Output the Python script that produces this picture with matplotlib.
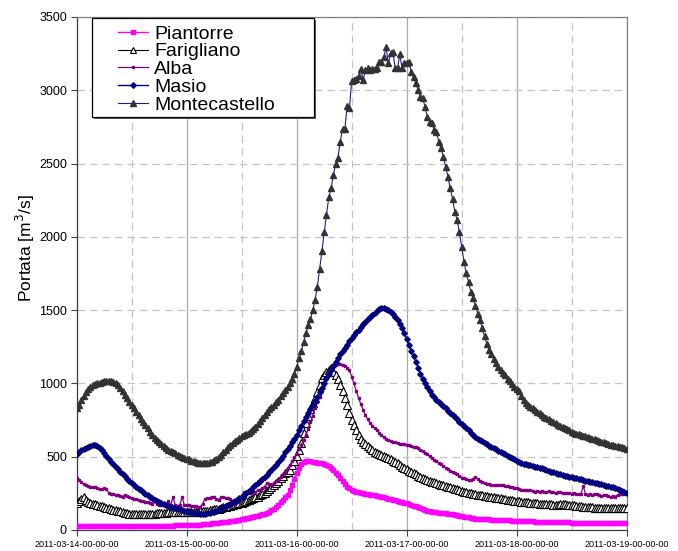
import numpy as np
import pandas as pd
import matplotlib
matplotlib.use("Agg")
import matplotlib.pyplot as plt
from matplotlib.lines import Line2D
from matplotlib.patches import Rectangle

plt.rcParams['font.family'] = ['Liberation Sans', 'DejaVu Sans']

# half-hourly samples from 2011-03-14 00:00 to 2011-03-19 00:00
start_time = "2011-03-14 00:00"
n_samples = 241

piantorre = [
    30, 29, 28, 28, 27, 27, 26, 26, 26, 25, 25, 25,
    25, 24, 24, 24, 24, 24, 24, 24, 25, 25, 25, 25,
    25, 26, 26, 26, 26, 27, 27, 27, 27, 28, 28, 28,
    28, 29, 29, 29, 30, 30, 30, 31, 31, 31, 32, 32,
    32, 33, 33, 34, 34, 35, 36, 38, 40, 41, 43, 45,
    47, 49, 50, 52, 54, 56, 57, 59, 61, 63, 65, 68,
    72, 76, 80, 84, 87, 90, 93, 97, 101, 106, 111, 116,
    125, 135, 146, 158, 172, 188, 205, 225, 240, 270, 310, 350,
    390, 425, 450, 465, 472, 473, 470, 466, 462, 460, 456, 455,
    450, 443, 436, 425, 410, 392, 375, 355, 335, 312, 296, 284,
    273, 266, 260, 257, 254, 251, 248, 245, 242, 240, 237, 233,
    229, 226, 222, 218, 214, 210, 206, 202, 198, 194, 190, 186,
    182, 177, 172, 167, 161, 155, 149, 142, 136, 131, 127, 124,
    122, 120, 118, 117, 116, 114, 112, 109, 106, 103, 100, 97,
    94, 91, 88, 86, 83, 80, 78, 77, 76, 75, 74, 73,
    72, 71, 70, 69, 68, 67, 66, 66, 65, 65, 64, 64,
    63, 62, 61, 60, 59, 58, 58, 58, 57, 57, 57, 57,
    57, 56, 56, 55, 55, 54, 54, 53, 53, 52, 52, 52,
    51, 51, 51, 50, 50, 50, 49, 49, 49, 48, 48, 48,
    48, 47, 47, 47, 47, 47, 46, 46, 46, 46, 46, 46,
    46,
]

farigliano = [
    182, 198, 212, 223, 205, 193, 186, 180, 175, 171, 167, 163,
    157, 153, 148, 143, 139, 135, 132, 128, 124, 118, 115, 112,
    110, 109, 109, 108, 109, 109, 108, 109, 109, 110, 112, 114,
    115, 116, 117, 118, 120, 122, 124, 125, 125, 125, 125, 124,
    122, 121, 120, 121, 123, 125, 127, 129, 131, 133, 135, 137,
    140, 143, 146, 150, 154, 158, 162, 166, 170, 174, 178, 182,
    187, 193, 200, 207, 214, 219, 224, 228, 236, 245, 255, 267,
    278, 291, 306, 320, 335, 352, 370, 387, 398, 409, 440, 470,
    505, 545, 595, 660, 730, 780, 825, 866, 898, 940, 990, 1035,
    1060, 1078, 1091, 1103, 1080, 1058, 1030, 990, 950, 900, 855, 800,
    750, 716, 680, 648, 620, 600, 585, 570, 557, 545, 535, 527,
    520, 512, 503, 496, 489, 482, 474, 466, 455, 442, 432, 425,
    418, 405, 394, 387, 379, 371, 364, 356, 349, 342, 335, 330,
    325, 320, 315, 310, 305, 300, 296, 291, 287, 282, 278, 272,
    266, 262, 258, 255, 252, 248, 245, 242, 239, 236, 233, 230,
    228, 226, 224, 221, 218, 216, 213, 210, 207, 205, 202, 200,
    197, 195, 193, 192, 190, 188, 186, 184, 182, 181, 180, 179,
    178, 176, 175, 174, 173, 172, 172, 174, 176, 174, 172, 172,
    170, 168, 166, 164, 162, 160, 158, 157, 155, 154, 153, 152,
    151, 150, 150, 150, 149, 149, 149, 148, 148, 148, 148, 148,
    148,
]

alba = [
    353, 340, 326, 316, 306, 300, 296, 293, 291, 287, 282, 277,
    285, 280, 252, 248, 244, 240, 237, 233, 228, 240, 234, 225,
    216, 212, 209, 205, 201, 197, 193, 188, 182, 178, 213, 175,
    168, 172, 171, 170, 196, 168, 224, 170, 167, 169, 227, 168,
    170, 168, 166, 164, 163, 160, 159, 180, 213, 216, 220, 227,
    224, 210, 205, 226, 222, 218, 216, 214, 183, 185, 190, 192,
    235, 261, 258, 255, 252, 250, 258, 270, 276, 287, 296, 318,
    312, 307, 320, 335, 341, 360, 378, 398, 420, 443, 470, 495,
    520, 550, 580, 615, 648, 690, 735, 780, 830, 870, 905, 950,
    990, 1030, 1065, 1090, 1110, 1125, 1130, 1132, 1126, 1116, 1105, 1090,
    1046, 1000, 945, 900, 858, 820, 785, 755, 730, 712, 698, 682,
    665, 648, 632, 618, 612, 604, 602, 598, 595, 590, 588, 585,
    582, 578, 574, 568, 566, 560, 548, 536, 527, 516, 505, 493,
    480, 470, 458, 447, 436, 425, 414, 405, 396, 388, 380, 370,
    358, 352, 348, 344, 341, 350, 362, 345, 334, 328, 322, 316,
    312, 308, 307, 309, 306, 308, 304, 300, 298, 293, 290, 287,
    285, 281, 276, 272, 274, 271, 273, 263, 260, 266, 262, 268,
    262, 258, 264, 259, 256, 252, 258, 261, 255, 251, 250, 253,
    248, 254, 247, 243, 244, 300, 248, 242, 245, 241, 246, 244,
    238, 233, 240, 236, 230, 226, 232, 228, 240, 245, 243, 248,
    250,
]

masio = [
    520, 532, 543, 552, 560, 568, 575, 579, 578, 572, 560, 546,
    528, 508, 486, 466, 447, 429, 413, 397, 381, 365, 350, 336,
    321, 307, 294, 282, 271, 259, 247, 236, 226, 216, 207, 198,
    190, 183, 176, 170, 164, 158, 153, 148, 144, 140, 136, 132,
    128, 125, 122, 119, 116, 113, 112, 111, 112, 114, 117, 121,
    126, 132, 139, 147, 155, 163, 171, 180, 189, 198, 208, 218,
    228, 239, 251, 263, 276, 290, 304, 318, 332, 347, 362, 377,
    393, 410, 428, 446, 466, 486, 508, 530, 552, 575, 598, 622,
    650, 680, 710, 742, 770, 798, 825, 852, 880, 908, 940, 970,
    1003, 1035, 1065, 1093, 1120, 1148, 1175, 1198, 1220, 1242, 1265, 1287,
    1308, 1328, 1348, 1366, 1385, 1403, 1420, 1436, 1452, 1466, 1480, 1492,
    1505, 1516, 1516, 1510, 1500, 1488, 1472, 1453, 1430, 1402, 1375, 1345,
    1300, 1262, 1222, 1185, 1145, 1108, 1065, 1030, 1000, 973, 946, 921,
    905, 890, 875, 860, 845, 830, 815, 800, 785, 770, 755, 740,
    725, 710, 694, 680, 664, 648, 636, 624, 614, 604, 594, 584,
    575, 567, 558, 550, 542, 534, 525, 516, 507, 499, 491, 482,
    473, 465, 458, 452, 447, 443, 440, 436, 432, 428, 425, 421,
    416, 410, 404, 398, 393, 387, 383, 379, 375, 371, 368, 364,
    360, 356, 352, 348, 345, 341, 337, 333, 329, 325, 322, 318,
    314, 311, 307, 303, 300, 296, 291, 285, 279, 273, 267, 261,
    254,
]

montecastello = [
    830, 855, 885, 915, 940, 960, 975, 987, 995, 1000, 1005, 1010,
    1013, 1016, 1018, 1018, 1012, 1002, 990, 972, 948, 921, 897, 875,
    853, 832, 808, 784, 760, 738, 715, 693, 670, 650, 630, 612,
    597, 584, 571, 559, 547, 538, 530, 522, 514, 506, 499, 493,
    487, 481, 474, 469, 464, 460, 458, 457, 458, 460, 463, 467,
    476, 487, 498, 512, 530, 548, 566, 582, 595, 606, 617, 628,
    638, 645, 652, 662, 676, 690, 705, 722, 742, 765, 786, 805,
    822, 838, 854, 870, 890, 912, 933, 955, 978, 1000, 1030, 1065,
    1114, 1171, 1220, 1280, 1342, 1398, 1440, 1500, 1569, 1660, 1780, 1900,
    2030, 2150, 2270, 2330, 2420, 2500, 2540, 2650, 2733, 2733, 2890, 2876,
    3064, 3069, 3074, 3096, 3142, 3069, 3137, 3149, 3137, 3142, 3142, 3153,
    3194, 3194, 3224, 3292, 3183, 3251, 3258, 3149, 3149, 3246, 3149, 3183,
    3183, 3194, 3126, 3087, 3046, 3001, 2955, 2944, 2887, 2819, 2785, 2773,
    2728, 2716, 2648, 2603, 2546, 2478, 2410, 2330, 2260, 2171, 2114, 2030,
    1930, 1830, 1750, 1690, 1625, 1580, 1530, 1476, 1430, 1375, 1320, 1268,
    1225, 1198, 1168, 1140, 1114, 1090, 1070, 1057, 1033, 1013, 997, 978,
    962, 945, 915, 890, 868, 852, 840, 829, 818, 807, 795, 784,
    774, 763, 754, 745, 736, 727, 719, 710, 702, 695, 687, 679,
    670, 662, 656, 652, 648, 643, 638, 633, 628, 624, 619, 614,
    608, 603, 598, 592, 587, 582, 577, 573, 570, 567, 563, 559,
    555,
]

series_names = ["Piantorre", "Farigliano", "Alba", "Masio", "Montecastello"]
tick_labels = ["2011-03-14-00-00-00", "2011-03-15-00-00-00", "2011-03-16-00-00-00",
               "2011-03-17-00-00-00", "2011-03-18-00-00-00", "2011-03-19-00-00-00"]
y_label = "Portata [m$^3$/s]"
y_ticks = [0, 500, 1000, 1500, 2000, 2500, 3000, 3500]

for s in (piantorre, farigliano, alba, masio, montecastello):
    assert len(s) == n_samples, len(s)

times = pd.date_range(start_time, periods=n_samples, freq="30min")
day_ticks = pd.date_range("2011-03-14", periods=len(tick_labels), freq="D")
half_ticks = pd.date_range("2011-03-14 12:00", periods=len(tick_labels) - 1, freq="D")

W, H = 678, 551
fig = plt.figure(figsize=(W / 100, H / 100), dpi=100)
ax = fig.add_axes([76.7 / W, 21 / H, 550 / W, 513.1 / H])

styles = [
    dict(color="#FF00FF", marker="s", markersize=3.4, mfc="#FF00FF", mec="#FF00FF", lw=1.0),
    dict(color="black", marker="^", markersize=6.0, mfc="white", mec="black", mew=0.8, lw=0.8),
    dict(color="#800080", marker="s", markersize=1.8, mfc="#800080", mec="#800080", lw=0.9),
    dict(color="#000080", marker="D", markersize=2.8, mfc="#000080", mec="#000080", lw=1.0),
    dict(color="#1a1aa0", marker="^", markersize=3.8, mfc="#333333", mec="#333333", lw=0.8),
]
data = [piantorre, farigliano, alba, masio, montecastello]
for name, vals, st in zip(series_names, data, styles):
    ax.plot(times, vals, label=name, zorder=3, **st)

ax.set_xlim(day_ticks[0], day_ticks[-1])
ax.set_ylim(y_ticks[0], y_ticks[-1])
ax.set_yticks(y_ticks)
ax.set_yticklabels([str(v) for v in y_ticks], fontsize=9)
ax.set_xticks(day_ticks)
ax.set_xticklabels(tick_labels, fontsize=6.5)
ax.set_xticks(half_ticks, minor=True)
ax.tick_params(axis="x", which="minor", length=0)
ax.tick_params(axis="both", which="major", direction="out", length=4, width=0.8, color="#404040", pad=3)

ax.grid(which="major", axis="x", color="#a8a8a8", ls="-", lw=0.9, zorder=0)
ax.grid(which="minor", axis="x", color="#c4c4c4", ls=(0, (6, 4)), lw=0.9, zorder=0)
ax.grid(which="major", axis="y", color="#c4c4c4", ls=(0, (6, 4)), lw=0.9, zorder=0)
ax.set_axisbelow(True)

for side in ("top", "right"):
    ax.spines[side].set_color("#808080")
    ax.spines[side].set_linewidth(0.9)
for side in ("left", "bottom"):
    ax.spines[side].set_color("#404040")
    ax.spines[side].set_linewidth(0.9)

ax.set_ylabel(y_label, fontsize=12.5)
ax.yaxis.set_label_coords(-0.072, 0.55)

# legend box
lx0, ly0, lx1, ly1 = 92, 18, 314, 117
shadow = Rectangle((lx0 / W + 1.5 / W, 1 - ly1 / H - 1.5 / H), (lx1 - lx0) / W, (ly1 - ly0) / H,
                   transform=fig.transFigure, fc="#606060", ec="none", zorder=8, clip_on=False)
box = Rectangle((lx0 / W, 1 - ly1 / H), (lx1 - lx0) / W, (ly1 - ly0) / H,
                transform=fig.transFigure, fc="white", ec="black", lw=0.9, zorder=9, clip_on=False)
ax.add_artist(shadow)
ax.add_artist(box)

handles = []
for name, st in zip(series_names, styles):
    hst = dict(st)
    if hst["marker"] == "^" and hst["mfc"] == "white":
        hst["markersize"] = 5.0
    handles.append(Line2D([], [], **hst))
leg = ax.legend(handles, series_names, loc="upper left", bbox_to_anchor=(118 / W, 1 - 25 / H),
                bbox_transform=fig.transFigure, frameon=False, fontsize=14, borderpad=0,
                borderaxespad=0, handlelength=1.55, handletextpad=0.3, labelspacing=0.01,
                numpoints=1)
leg.set_zorder(10)

fig.savefig("out.png", dpi=100)
